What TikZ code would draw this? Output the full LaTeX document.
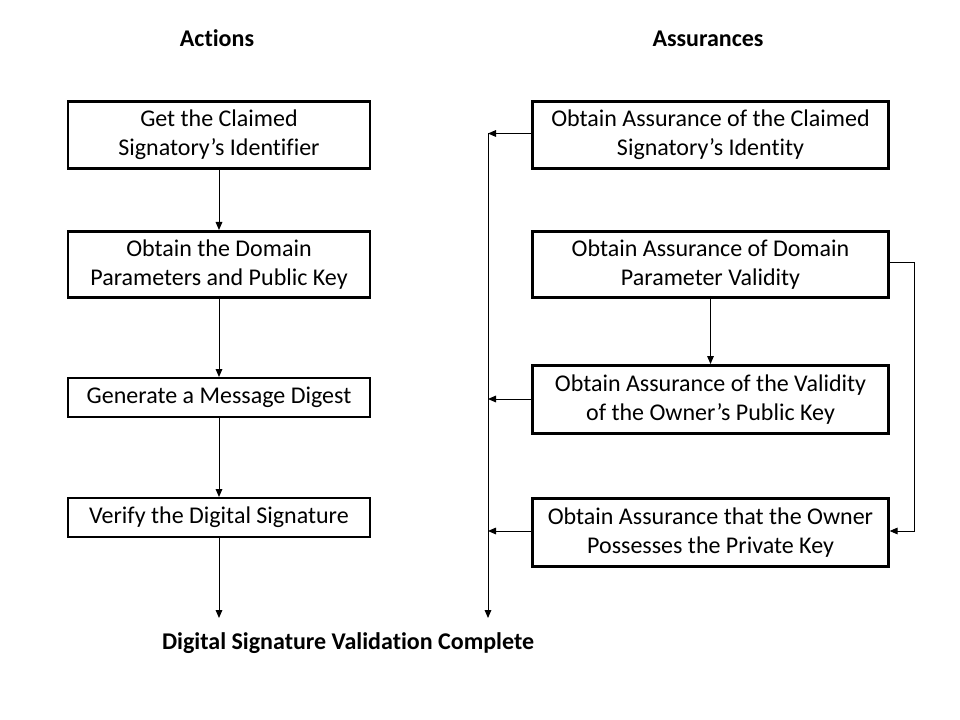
\documentclass[tikz,border=0pt]{standalone}
\usepackage{fontspec}
\setmainfont[Ligatures={NoCommon}]{Carlito}
\usetikzlibrary{arrows.meta}
\begin{document}
\begin{tikzpicture}[x=0.75pt,y=-0.75pt,
  box/.style={draw,line width=2.2pt,align=center,inner sep=0pt,font=\fontsize{18}{21.75}\selectfont},
  rbox/.style={box,minimum width=266.5pt},
  lbox/.style={box,minimum width=226.5pt},
  conn/.style={line width=0.75pt,-{Triangle[length=6pt,width=5pt]}},
  hdr/.style={font=\fontsize{18}{21.75}\selectfont\bfseries,anchor=base,inner sep=0pt}]
\useasboundingbox (0,0) rectangle (960,720);
\node[lbox,minimum height=50.25pt] (a1) at (219,135) {Get the Claimed\\Signatory’s Identifier};
\node[lbox,minimum height=49.5pt] (a2) at (219,264.5) {Obtain the Domain\\Parameters and Public Key};
\node[lbox,minimum height=29.25pt] (a3) at (219,397.5) {Generate a Message Digest};
\node[lbox,minimum height=29.25pt] (a4) at (219,517.5) {Verify the Digital Signature};
\node[rbox,minimum height=50.25pt] (r1) at (710.5,135) {Obtain Assurance of the Claimed\\Signatory’s Identity};
\node[rbox,minimum height=49.5pt] (r2) at (710.5,264.5) {Obtain Assurance of Domain\\Parameter Validity};
\node[rbox,minimum height=51pt] (r3) at (710.5,399.5) {Obtain Assurance of the Validity\\of the Owner’s Public Key};
\node[rbox,minimum height=51pt] (r4) at (710.5,532.5) {Obtain Assurance that the Owner\\Possesses the Private Key};
\node[hdr] (h1) at (217,47) {Actions};
\node[hdr] (h2) at (708,47) {Assurances};
\node[hdr] (done) at (348,649) {Digital Signature Validation Complete};
\coordinate (e1) at (219,618);
\coordinate (vt) at (488,133.5);
\coordinate (vb) at (488,618);
\draw[conn] (a1.south |- 0,167) -- (a2.north |- 0,230);
\draw[conn] (a2.south |- 0,296) -- (a3.north |- 0,377);
\draw[conn] (a3.south |- 0,416) -- (a4.north |- 0,497);
\draw[conn] (a4.south |- 0,536) -- (e1);
\draw[conn] (vt) -- (vb);
\draw[conn] (r1.west |- vt) -- (vt);
\draw[conn] (r3.west |- 0,399) -- (vt |- 0,399);
\draw[conn] (r4.west |- 0,531) -- (vt |- 0,531);
\draw[conn] (r2.south |- 0,296) -- (r3.north |- 0,364);
\draw[conn] (r2.east |- 0,263) -- (914,263) |- (r4.east |- 0,531);
\end{tikzpicture}
\end{document}
